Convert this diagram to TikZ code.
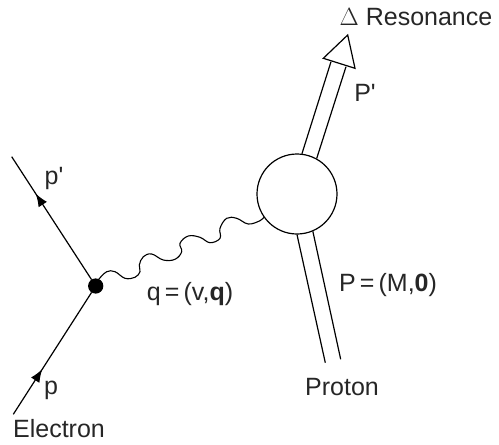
\documentclass[tikz,border=0pt]{standalone}
\usepackage{fontspec}
\setmainfont{Liberation Sans}
\usetikzlibrary{arrows.meta,decorations.markings}
\tikzset{
  x=1pt,y=-1pt,
  every picture/.style={line width=1.2pt},
  lab/.style={font=\fontsize{25}{28}\selectfont,text=black!85,inner sep=0pt,anchor=center},
  fermion/.style={line width=1.2pt,postaction={decorate},decoration={markings,mark=at position #1 with {\arrow{Latex[length=13pt,width=10pt]}}}},
  vertexdot/.style={circle,fill=black,draw=black,minimum size=14pt,inner sep=0pt},
  blob/.style={circle,draw=black,line width=1.2pt,minimum size=80pt,inner sep=0pt},
}
\begin{document}
\begin{tikzpicture}
\useasboundingbox (0,0) rectangle (499,445);
\node[vertexdot] (v) at (95.7,286) {};
\node[blob] (b) at (297,194) {};
\coordinate (pin) at (13.3,414.3);
\coordinate (pout) at (11.7,156.7);
\draw[fermion=0.37] (pin) -- (v);
\draw[fermion=0.70] (v) -- (pout);
% wavy photon
\draw[line width=1.1pt] plot[smooth,tension=0.65] coordinates {
 (v.65) (106.7,271.7) (115,271.7) (125,278.3) (135,277.3) (140,271.7) (139.3,265) (143.3,256.7)
 (151.7,254) (163.3,260) (175,259.3) (181.7,251.7) (180,243.3) (188.3,236) (200,237.3) (210,242.7)
 (220,238.3) (220,228.3) (226.7,218.3) (236.7,218.3) (248.3,224) (260,220.7) (b.215)};
% outgoing double line
\coordinate (ra) at (331,61.7);
\coordinate (rb) at (346,66.7);
\coordinate (tip) at (347.7,35);
\coordinate (hl) at (323.3,58.3);
\coordinate (hr) at (355,68.3);
\draw (b.83) -- (ra);
\draw (b.61) -- (rb);
\draw[line join=miter] (tip) -- (hl) -- (hr) -- cycle;
% incoming double line
\coordinate (pa) at (325.3,362.7);
\coordinate (pb) at (340.7,359.3);
\draw (b.-90) -- (pa);
\draw (b.-67) -- (pb);
% labels
\node[lab] (tdelta) at (416,17) {$\Delta$ Resonance};
\node[lab] (tpp) at (365,93) {P\textquotesingle};
\node[lab] (tq) at (190,294) {q\,=\,(v,\textbf{q})};
\node[lab] (tP) at (388,285) {P\,=\,(M,\textbf{0})};
\node[lab] (tpr) at (342,387) {Proton};
\node[lab] (tpe) at (54,178) {p\textquotesingle};
\node[lab] (tp) at (51,390) {p};
\node[lab] (tel) at (59,429) {Electron};
\end{tikzpicture}
\end{document}
